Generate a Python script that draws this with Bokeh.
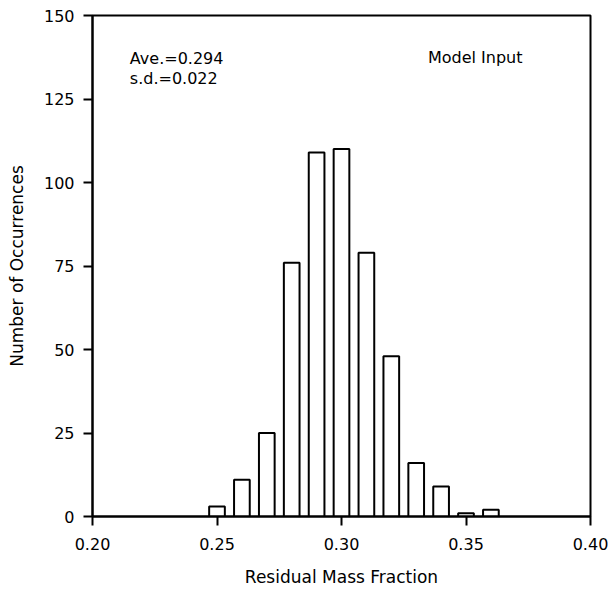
from bokeh.plotting import figure
from bokeh.models import FixedTicker, PrintfTickFormatter, Label, Range1d
from bokeh.embed import file_html
from bokeh.resources import INLINE

# Data
bin_centers = [0.25, 0.26, 0.27, 0.28, 0.29, 0.30, 0.31, 0.32, 0.33, 0.34, 0.35, 0.36]
counts = [3, 11, 25, 76, 109, 110, 79, 48, 16, 9, 1, 2]
x_ticks = [0.20, 0.25, 0.30, 0.35, 0.40]
y_ticks = [0, 25, 50, 75, 100, 125, 150]
stats_lines = ["Ave.=0.294", "s.d.=0.022"]
panel_title = "Model Input"
x_label = "Residual Mass Fraction"
y_label = "Number of Occurrences"

FONT = "DejaVu Sans"

p = figure(
    frame_width=498, frame_height=501,
    x_range=Range1d(0.20, 0.40), y_range=Range1d(0, 150),
    output_backend="svg", toolbar_location=None,
    min_border_left=92, min_border_right=22, min_border_top=15, min_border_bottom=78,
    background_fill_color="white", border_fill_color="white",
)

p.vbar(x=bin_centers, top=counts, bottom=0, width=0.0063,
       fill_color="white", line_color="black", line_width=2)

p.xgrid.visible = False
p.ygrid.visible = False
p.outline_line_color = "black"
p.outline_line_width = 2
p.outline_line_alpha = 1.0

for ax in (p.xaxis[0], p.yaxis[0]):
    ax.axis_line_color = "black"
    ax.axis_line_width = 2
    ax.major_tick_line_color = "black"
    ax.major_tick_line_width = 2
    ax.major_tick_out = 9
    ax.major_tick_in = 0
    ax.minor_tick_line_color = None
    ax.major_label_text_font = FONT
    ax.major_label_text_font_size = "16px"
    ax.major_label_text_color = "black"
    ax.axis_label_text_font = FONT
    ax.axis_label_text_font_size = "17px"
    ax.axis_label_text_font_style = "normal"
    ax.axis_label_text_color = "black"

p.xaxis[0].ticker = FixedTicker(ticks=x_ticks)
p.xaxis[0].formatter = PrintfTickFormatter(format="%.2f")
p.xaxis[0].major_label_standoff = 12
p.xaxis[0].axis_label = x_label
p.xaxis[0].axis_label_standoff = 14

p.yaxis[0].ticker = FixedTicker(ticks=y_ticks)
p.yaxis[0].major_label_standoff = 9
p.yaxis[0].axis_label = y_label
p.yaxis[0].axis_label_standoff = 14

p.add_layout(Label(x=0.215, y=137.1, text=stats_lines[0], text_font=FONT,
                   text_font_size="16px", text_color="black", text_baseline="alphabetic"))
p.add_layout(Label(x=0.215, y=131.1, text=stats_lines[1], text_font=FONT,
                   text_font_size="16px", text_color="black", text_baseline="alphabetic"))
p.add_layout(Label(x=0.3347, y=137.3, text=panel_title, text_font=FONT,
                   text_font_size="16px", text_color="black", text_baseline="alphabetic"))

open("out.html", "w").write(file_html(p, INLINE))
